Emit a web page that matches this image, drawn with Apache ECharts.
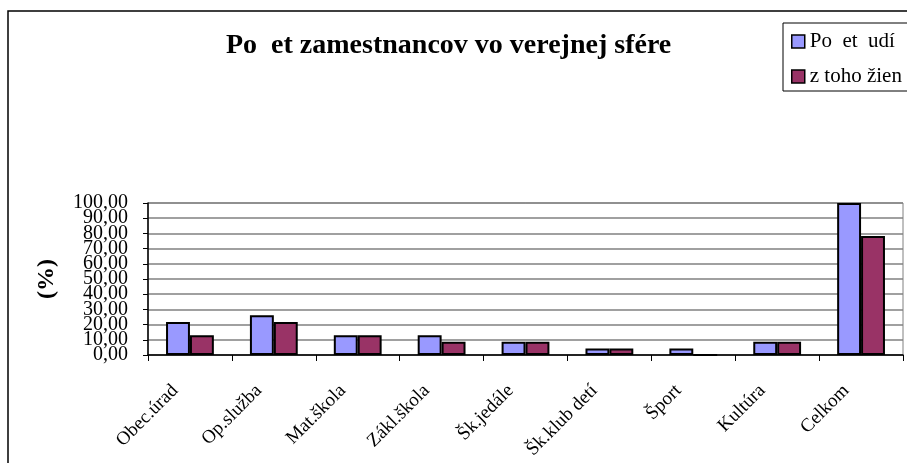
<!DOCTYPE html>
<html>
<head>
<meta charset="utf-8">
<script src="https://cdn.jsdelivr.net/npm/echarts@6/dist/echarts.min.js"></script>
<style>
  html, body { margin: 0; padding: 0; background: #fff; }
  #chart { width: 907px; height: 463px; }
</style>
</head>
<body>
<div id="chart"></div>
<script>
// kategórie a hodnoty (%)
var categories = ['Obec.úrad', 'Op.služba', 'Mat.škola', 'Zákl.škola', 'Šk.jedále', 'Šk.klub detí', 'Šport', 'Kultúra', 'Celkom'];
var pocetLudi = [21.74, 26.09, 13.04, 13.04, 8.70, 4.35, 4.35, 8.70, 100];
var zTohoZien = [13.04, 21.74, 13.04, 8.70, 8.70, 4.35, 0, 8.70, 78.26];
var seriesNames = ['Po  et  udí', 'z toho žien'];

var serif = '"Liberation Serif", "Times New Roman", serif';
var myChart = echarts.init(document.getElementById('chart'));

function fmt(v) { return v.toFixed(2).replace('.', ','); }

var labelStyle = {
  margin: 20,
  hideOverlap: false,
  fontFamily: serif,
  fontSize: 20,
  color: '#000',
  lineHeight: 10
};

var option = {
  backgroundColor: '#fff',
  animation: false,
  title: {
    text: 'Po  et zamestnancov vo verejnej sfére',
    left: 221,
    top: 27,
    textStyle: { fontFamily: serif, fontSize: 28, fontWeight: 'bold', color: '#000' }
  },
  legend: {
    orient: 'vertical',
    left: 783,
    top: 23,
    padding: [8, 40, 4, 8],
    itemWidth: 13,
    itemHeight: 13,
    itemGap: 14,
    borderColor: '#000',
    borderWidth: 1,
    borderRadius: 0,
    icon: 'rect',
    itemStyle: { borderColor: '#000', borderWidth: 1.5 },
    textStyle: { fontFamily: serif, fontSize: 21, color: '#000' },
    data: seriesNames
  },
  graphic: [{
    type: 'rect',
    shape: { x: 8, y: 11, width: 1000, height: 1000 },
    style: { fill: null, stroke: '#000', lineWidth: 1.5 },
    silent: true
  }],
  grid: {
    left: 148, right: 4, top: 203, bottom: 108,
    outerBoundsMode: 'none',
    show: true, borderColor: '#808080', borderWidth: 1
  },
  xAxis: {
    type: 'category',
    data: categories,
    axisLine: { lineStyle: { color: '#000', width: 1.5 } },
    axisTick: { show: true, length: 6, lineStyle: { color: '#000' } },
    axisLabel: {
      interval: 0,
      rotate: 45,
      margin: 18,
      padding: [0, 21, 0, 0],
      fontFamily: serif,
      fontSize: 19,
      color: '#000'
    }
  },
  yAxis: [
    {
      // párne hodnoty (0, 20 ... 100) + názov osi
      type: 'value',
      min: 0,
      max: 100,
      interval: 20,
      name: '(%)',
      nameLocation: 'middle',
      nameRotate: 90,
      nameGap: 89,
      nameTextStyle: { fontFamily: serif, fontSize: 24, fontWeight: 'bold', color: '#000' },
      axisLine: { show: false },
      axisTick: { show: false },
      splitLine: { show: false },
      axisLabel: Object.assign({ formatter: fmt }, labelStyle)
    },
    {
      // nepárne hodnoty (10, 30 ... 90), čiary mriežky a osi
      type: 'value',
      min: 0,
      max: 100,
      interval: 10,
      position: 'left',
      axisLine: { show: true, lineStyle: { color: '#000', width: 1.5 } },
      axisTick: { show: true, length: 5, lineStyle: { color: '#000' } },
      splitLine: { show: true, lineStyle: { color: '#808080', width: 1.5 } },
      axisLabel: Object.assign({
        formatter: function (v) { return (Math.round(v) % 20 === 10) ? fmt(v) : ''; }
      }, labelStyle)
    }
  ],
  series: [
    {
      name: seriesNames[0],
      type: 'bar',
      data: pocetLudi,
      barGap: '0%',
      barCategoryGap: '43%',
      itemStyle: { color: '#9999FF', borderColor: '#000', borderWidth: 2 }
    },
    {
      name: seriesNames[1],
      type: 'bar',
      data: zTohoZien,
      itemStyle: { color: '#993366', borderColor: '#000', borderWidth: 2 }
    }
  ]
};
myChart.setOption(option);
</script>
</body>
</html>
